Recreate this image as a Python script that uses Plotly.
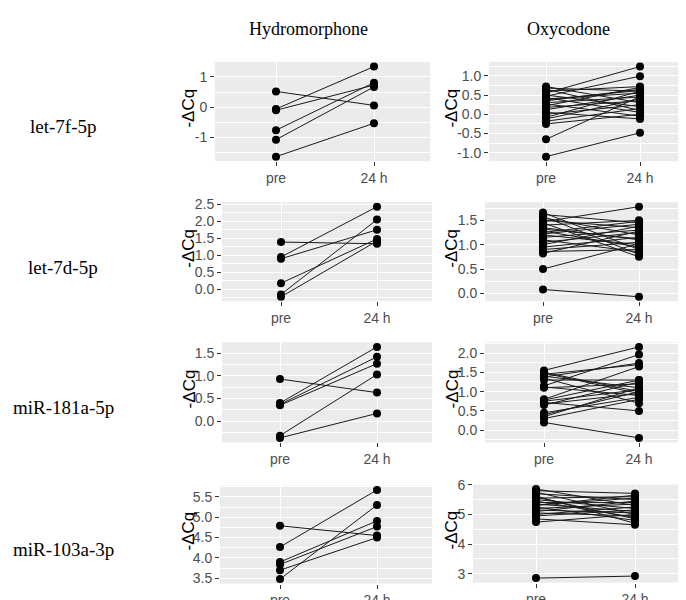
import plotly.graph_objects as go

W, H = 686, 600

categories = ["pre", "24 h"]
drugs = ["Hydromorphone", "Oxycodone"]
mirnas = ["let-7f-5p", "let-7d-5p", "miR-181a-5p", "miR-103a-3p"]

# ---- Hydromorphone (6 subjects) ----
hyd_let7f_pre = [0.52, -0.06, -0.10, -0.76, -1.07, -1.63]
hyd_let7f_24h = [0.06, 1.34, 0.73, 0.81, 0.67, -0.53]
hyd_let7d_pre = [1.39, 0.95, 0.90, 0.18, -0.15, -0.22]
hyd_let7d_24h = [1.34, 2.43, 1.75, 1.48, 2.05, 1.42]
hyd_181a_pre = [0.93, 0.40, 0.37, 0.35, -0.32, -0.37]
hyd_181a_24h = [0.63, 1.64, 1.42, 1.27, 1.03, 0.17]
hyd_103a_pre = [4.79, 4.27, 3.90, 3.84, 3.70, 3.48]
hyd_103a_24h = [4.55, 5.67, 4.91, 4.77, 4.50, 5.30]

# ---- Oxycodone ----
oxy_let7f_pre = [0.72, 0.68, 0.65, 0.60, 0.55, 0.50, 0.47, 0.43, 0.40, 0.35, 0.30, 0.27,
                 0.22, 0.18, 0.12, 0.05, 0.00, -0.08, -0.12, -0.18, -0.25, -0.65, -1.10, 0.38]
oxy_let7f_24h = [0.30, 0.60, 0.10, 0.72, 1.24, 0.20, 0.99, 0.05, 0.55, 0.65, 0.45, -0.05,
                 0.70, 0.35, 0.50, -0.12, 0.25, 0.60, 0.40, 0.15, 0.00, 0.46, -0.48, 0.62]
oxy_let7d_pre = [1.66, 1.62, 1.58, 1.55, 1.50, 1.45, 1.40, 1.35, 1.28, 1.22, 1.20, 1.15,
                 1.10, 1.05, 1.00, 0.95, 0.90, 0.86, 0.82, 1.25, 0.50, 0.08, 1.47, 1.32]
oxy_let7d_24h = [0.90, 1.45, 0.80, 1.20, 1.35, 0.75, 1.50, 1.10, 0.95, 1.42, 1.00, 1.30,
                 0.85, 1.25, 1.38, 1.15, 1.05, 0.90, 1.28, 1.48, 1.02, -0.07, 1.78, 1.12]
oxy_181a_pre = [1.55, 1.50, 1.45, 1.40, 1.35, 1.30, 1.15, 1.12, 1.10, 0.80, 0.75, 0.72,
                0.68, 0.65, 0.45, 0.40, 0.35, 0.30, 0.20, 1.38, 0.78, 1.48]
oxy_181a_24h = [2.16, 1.00, 1.70, 1.10, 0.70, 1.30, 1.96, 0.90, 1.20, 1.65, 1.05, 0.50,
                0.95, 1.25, 0.85, 1.00, 1.10, 0.80, -0.20, 1.74, 1.30, 0.95]
oxy_103a_pre = [5.86, 5.80, 5.75, 5.70, 5.62, 5.55, 5.50, 5.45, 5.40, 5.35, 5.30, 5.25,
                5.20, 5.15, 5.10, 5.05, 5.00, 4.95, 4.85, 4.74, 5.58, 5.32, 2.85]
oxy_103a_24h = [5.30, 5.71, 5.00, 5.50, 4.70, 5.60, 5.20, 4.90, 5.40, 5.10, 5.65, 4.80,
                5.35, 5.05, 5.45, 4.95, 5.25, 5.15, 4.65, 5.00, 4.85, 5.55, 2.92]

# y-axis tick labels per panel
ticks_r1l = [-1, 0, 1]
ticks_r1r = [-1.0, -0.5, 0.0, 0.5, 1.0]
ticks_r2l = [0.0, 0.5, 1.0, 1.5, 2.0, 2.5]
ticks_r2r = [0.0, 0.5, 1.0, 1.5]
ticks_r3l = [0.0, 0.5, 1.0, 1.5]
ticks_r3r = [0.0, 0.5, 1.0, 1.5, 2.0]
ticks_r4l = [3.5, 4.0, 4.5, 5.0, 5.5]
ticks_r4r = [3, 4, 5, 6]

# screen-pixel -> paper helpers (calibrated to the page offset)
def fx(px):
    return (px - 8) / W

def fy(py):
    return 1 - ((py - 17) / 0.969) / H

panels = [
    # (pre, post, ticks, fmt, minor step, geometry(left,right,top,bottom,preX,postX) in screen px)
    (hyd_let7f_pre, hyd_let7f_24h, ticks_r1l, "d", 0.5, (215, 430, 63, 162, 276, 374)),
    (oxy_let7f_pre, oxy_let7f_24h, ticks_r1r, ".1f", 0.25, (489, 694, 63, 162, 546, 640)),
    (hyd_let7d_pre, hyd_let7d_24h, ticks_r2l, ".1f", 0.25, (222, 432, 203, 302, 281, 377)),
    (oxy_let7d_pre, oxy_let7d_24h, ticks_r2r, ".1f", 0.25, (485, 694, 203, 302, 543, 639)),
    (hyd_181a_pre, hyd_181a_24h, ticks_r3l, ".1f", 0.25, (222, 432, 343, 443, 280, 377)),
    (oxy_181a_pre, oxy_181a_24h, ticks_r3r, ".1f", 0.25, (485, 694, 343, 443, 544, 639)),
    (hyd_103a_pre, hyd_103a_24h, ticks_r4l, ".1f", 0.25, (220, 432, 486, 584, 280, 377)),
    (oxy_103a_pre, oxy_103a_24h, ticks_r4r, "d", 0.5, (473, 694, 485, 583, 536, 635)),
]

fig = go.Figure()
layout = {}
annotations = []
tick_font = dict(family="Liberation Sans, Arial", size=14, color="#4D4D4D")

for i, (pre, post, ticks, fmt, minor, geo) in enumerate(panels, start=1):
    left, right, top, bottom, px_pre, px_post = geo
    u = px_post - px_pre
    xr = [0 - (px_pre - left) / u, 1 + (right - px_post) / u]
    lo = min(pre + post)
    hi = max(pre + post)
    span = hi - lo
    yr = [lo - 0.05 * span, hi + 0.05 * span]
    xa = "x" if i == 1 else f"x{i}"
    ya = "y" if i == 1 else f"y{i}"
    for a, b in zip(pre, post):
        fig.add_trace(go.Scatter(
            x=categories, y=[a, b], mode="lines+markers",
            line=dict(color="#1a1a1a", width=1),
            marker=dict(color="black", size=8),
            xaxis=xa, yaxis=ya, showlegend=False, hoverinfo="skip"))
    key = "" if i == 1 else str(i)
    layout[f"xaxis{key}"] = dict(
        domain=[fx(left), min(1.0, fx(right))], anchor=ya, type="category",
        categoryorder="array", categoryarray=categories,
        range=xr, showgrid=True, gridcolor="white", gridwidth=1.4,
        zeroline=False, showline=False, ticks="outside", ticklen=4,
        tickcolor="#333333", tickwidth=1, tickfont=tick_font,
        fixedrange=True)
    layout[f"yaxis{key}"] = dict(
        domain=[fy(bottom), fy(top)], anchor=xa,
        range=yr, tickmode="array", tickvals=ticks,
        ticktext=[(f"{t:{fmt}}" if fmt != "d" else f"{int(t)}") for t in ticks],
        showgrid=True, gridcolor="white", gridwidth=1.4,
        minor=dict(dtick=minor, tick0=ticks[0] - minor, showgrid=True,
                   gridcolor="white", gridwidth=0.6, ticks=""),
        zeroline=False, showline=False, ticks="outside", ticklen=4,
        tickcolor="#333333", tickwidth=1, tickfont=tick_font,
        fixedrange=True)
    # y axis title
    title_x = 189 if (i % 2 == 1) else 452
    annotations.append(dict(
        x=fx(title_x), y=fy((top + bottom) / 2 - 3), xref="paper", yref="paper",
        text="-ΔCq", textangle=-90, showarrow=False,
        font=dict(family="Liberation Sans, Arial", size=17, color="black"),
        xanchor="center", yanchor="middle"))

# Column titles
for name, cx in zip(drugs, [308, 568]):
    annotations.append(dict(
        x=fx(cx), y=fy(30), xref="paper", yref="paper", text=name,
        showarrow=False, xanchor="center", yanchor="middle",
        font=dict(family="Liberation Serif, Times New Roman", size=18, color="black")))

# Row labels
for name, cy in zip(mirnas, [127, 268, 408, 550]):
    annotations.append(dict(
        x=fx(63), y=fy(cy), xref="paper", yref="paper", text=name,
        showarrow=False, xanchor="center", yanchor="middle",
        font=dict(family="Liberation Serif, Times New Roman", size=19, color="black")))

fig.update_layout(
    width=W, height=H, margin=dict(l=0, r=0, t=0, b=0),
    paper_bgcolor="white", plot_bgcolor="#EBEBEB",
    annotations=annotations, **layout)

fig.write_html("out.html")
